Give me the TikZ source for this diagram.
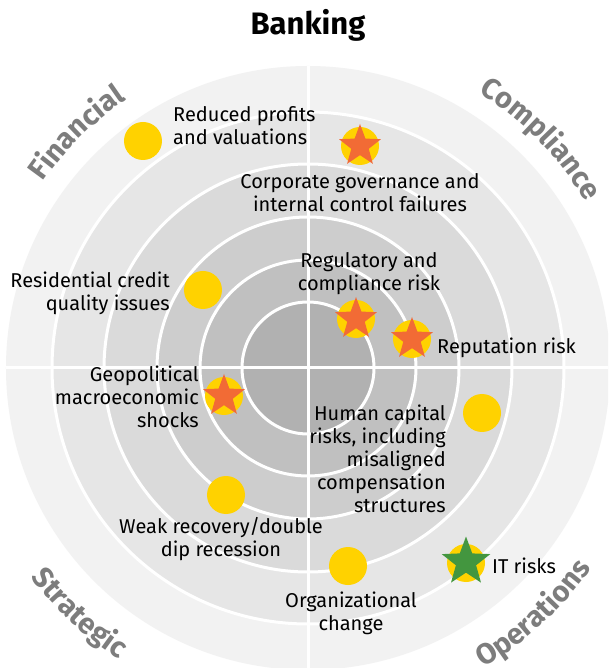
\documentclass[tikz,border=0pt]{standalone}
\usepackage{fontspec}
\setmainfont{Fira Sans}
\usetikzlibrary{shapes.geometric,decorations.text}
\definecolor{ringA}{HTML}{F2F2F2}
\definecolor{ringB}{HTML}{E6E6E6}
\definecolor{ringC}{HTML}{DADADA}
\definecolor{ringD}{HTML}{CDCDCD}
\definecolor{ringE}{HTML}{C0C0C0}
\definecolor{ringF}{HTML}{B1B1B1}
\definecolor{riskyellow}{HTML}{FFD200}
\definecolor{riskorange}{HTML}{F26B35}
\definecolor{riskgreen}{HTML}{43963F}
\definecolor{catgray}{HTML}{7D7D7D}
\newcommand{\catfont}{\fontsize{29}{29}\selectfont\bfseries}
\tikzset{
  ringline/.style={draw=white, line width=3},
  yellowdot/.style={circle, fill=riskyellow, minimum size=38, inner sep=0},
  orangestar/.style={star, star points=5, star point ratio=2.4, fill=riskorange, minimum size=44, inner sep=0},
  greenstar/.style={star, star points=5, star point ratio=2.4, fill=riskgreen, minimum size=51, inner sep=0},
  risktext/.style={font=\fontsize{20}{23}\selectfont, inner sep=0, text=black},
}
\begin{document}
\begin{tikzpicture}[x=1pt,y=1pt]
\useasboundingbox (-308,-300) rectangle (300,368);
\fill[white] (-308,-300) rectangle (300,368);
\begin{scope}
\clip (-308,-300) rectangle (300,368);
\fill[ringA] (0,0) circle[radius=302];
\filldraw[fill=ringB, ringline] (0,0) circle[radius=256];
\filldraw[fill=ringC, ringline] (0,0) circle[radius=204];
\filldraw[fill=ringD, ringline] (0,0) circle[radius=151];
\filldraw[fill=ringE, ringline] (0,0) circle[radius=108];
\filldraw[fill=ringF, ringline] (0,0) circle[radius=66];
\draw[ringline] (-302,0) -- (302,0);
\draw[ringline] (0,-302) -- (0,302);
\end{scope}

% title
\node[font=\fontsize{31}{31}\selectfont\bfseries, anchor=base, inner sep=0] (title) at (0,333) {Banking};

% category labels
\path[decoration={text along path, text={|\catfont|Financial}, text align=center, text color=catgray}, decorate]
  (174.5:324) arc[start angle=174.5, end angle=94.5, radius=324];
\path[decoration={text along path, text={|\catfont|Compliance}, text align=center, text color=catgray}, decorate]
  (84.5:324) arc[start angle=84.5, end angle=4.5, radius=324];
\path[decoration={text along path, text={|\catfont|Strategic}, text align=center, text color=catgray}, decorate]
  (187:347) arc[start angle=187, end angle=267, radius=347];
\path[decoration={text along path, text={|\catfont|Operations}, text align=center, text color=catgray}, decorate]
  (272.5:347) arc[start angle=272.5, end angle=352.5, radius=347];

% markers
\node[yellowdot] (reduced) at (-165,227) {};
\node[yellowdot] (corpdot) at (52,222) {};
\node[orangestar] (corpstar) at (52,222) {};
\node[yellowdot] (regdot) at (48,49) {};
\node[orangestar] (regstar) at (48,49) {};
\node[yellowdot] (repdot) at (104,29) {};
\node[orangestar] (repstar) at (104,29) {};
\node[yellowdot] (resid) at (-105,78) {};
\node[yellowdot] (geodot) at (-84,-28) {};
\node[orangestar] (geostar) at (-84,-28) {};
\node[yellowdot] (human) at (174,-45) {};
\node[yellowdot] (weak) at (-82,-127) {};
\node[yellowdot] (org) at (40,-198) {};
\node[yellowdot] (itdot) at (158,-195) {};
\node[greenstar] (itstar) at (158,-194) {};

% texts
\node[risktext, anchor=west, align=left] (treduced) at (-135,242.5) {Reduced profits\\and valuations};
\node[risktext, align=center] (tcorp) at (52,175.5) {Corporate governance and\\internal control failures};
\node[risktext, align=center] (treg) at (61,94) {Regulatory and\\compliance risk};
\node[risktext, anchor=west] (trep) at (129,20) {Reputation risk};
\node[risktext, anchor=east, align=right] (tresid) at (-138,75) {Residential credit\\quality issues};
\node[risktext, anchor=east, align=right] (tgeo) at (-109,-29) {Geopolitical\\macroeconomic\\shocks};
\node[risktext, anchor=east, align=right] (thuman) at (138,-90.5) {Human capital\\risks, including\\misaligned\\compensation\\structures};
\node[risktext, align=center] (tweak) at (-87,-171.5) {Weak recovery/double\\dip recession};
\node[risktext, align=center] (torg) at (43,-245) {Organizational\\change};
\node[risktext, anchor=west] (tit) at (184,-198) {IT risks};
\end{tikzpicture}
\end{document}
